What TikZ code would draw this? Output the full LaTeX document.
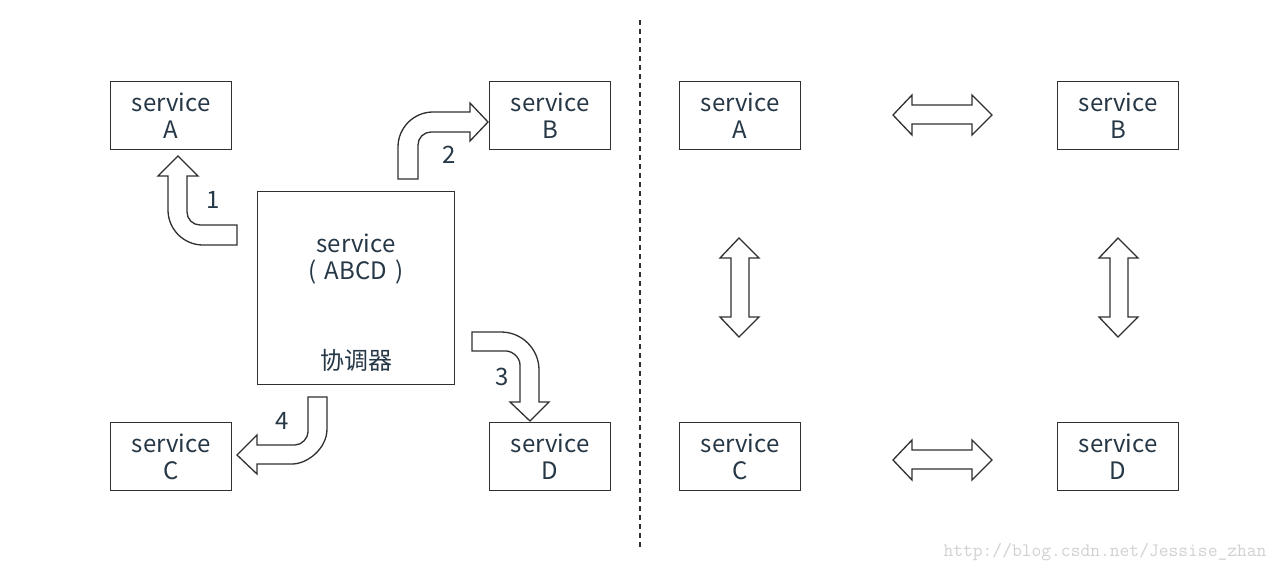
\documentclass[tikz,border=0pt]{standalone}
\usepackage{fontspec}
\setmainfont{Noto Sans CJK SC}
\begin{document}
\begin{tikzpicture}[x=1pt,y=-1pt,
  txt/.style={text=textc,font=\fontsize{24}{27}\selectfont},
  svc/.style={draw=linec,line width=1.3pt,fill=white,minimum width=121pt,minimum height=68pt,inner sep=0pt,align=center,txt,anchor=north west},
  blk/.style={draw=linec,line width=1.3pt,fill=white,line join=miter},
  num/.style={txt}]
\definecolor{textc}{HTML}{263746}
\definecolor{linec}{HTML}{303030}
\useasboundingbox[fill=white] (0,0) rectangle (1280,573);
% left boxes
\node[svc] (A) at (110,81) {service\\A};
\node[svc] (B) at (489,81) {service\\B};
\node[svc] (C) at (110,422) {service\\C};
\node[svc] (D) at (489,422) {service\\D};
\node[draw=linec,line width=1.3pt,minimum width=197pt,minimum height=193pt,anchor=north west] (M) at (257,191) {};
\node[txt,align=center] (Mt) at (356,259) {service\\(\hspace{3pt} ABCD\hspace{3pt} )};
\node[txt] (Mc) at (356,360) {协调器};
% right boxes
\node[svc] (RA) at (679,81) {service\\A};
\node[svc] (RB) at (1057,81) {service\\B};
\node[svc] (RC) at (679,422) {service\\C};
\node[svc] (RD) at (1057,422) {service\\D};
% divider
\coordinate (d1) at (640,20);
\coordinate (d2) at (640,550);
\draw[linec,line width=1.2pt,dash pattern=on 5pt off 4pt] (d1) -- (d2);
% bent arrow 1
\draw[blk] (237,225) -- (200,225) .. controls (192.8,225) and (187,219.2) .. (187,212)
  -- (187,176) -- (198,176) -- (178,156) -- (158,176) -- (168,176)
  -- (168,210) .. controls (168,229.3) and (183.7,245) .. (203,245) -- (237,245) -- cycle;
% bent arrow 2
\draw[blk] (398,179) -- (398,147) .. controls (398,127.7) and (413.7,112) .. (433,112)
  -- (470,112) -- (470,103) -- (488,122) -- (470,141) -- (470,132)
  -- (431,132) .. controls (423.8,132) and (418,137.8) .. (418,145) -- (418,179) -- cycle;
% bent arrow 3
\draw[blk] (472,332) -- (501,332) .. controls (522,332) and (539,349) .. (539,370)
  -- (539,402) -- (549,402) -- (530,421) -- (510,402) -- (520,402)
  -- (520,365) .. controls (520,357.3) and (512.3,351) .. (506,351) -- (472,351) -- cycle;
% bent arrow 4
\draw[blk] (327,397) -- (327,429) .. controls (327,448.3) and (307.7,464) .. (292,464)
  -- (257,464) -- (257,474) -- (237,455) -- (257,435) -- (257,445)
  -- (295,445) .. controls (302.2,445) and (308,437.8) .. (308,432) -- (308,397) -- cycle;
% numbers
\node[num] (n1) at (213,200) {1};
\node[num] (n2) at (449,155) {2};
\node[num] (n3) at (502,377) {3};
\node[num] (n4) at (282,421) {4};
% double arrows
\foreach \dy in {0,345}{
  \draw[blk,yshift=-\dy pt] (893,115) -- (912,95) -- (912,105) -- (972,105) -- (972,95) -- (992,115)
    -- (972,135) -- (972,124) -- (912,124) -- (912,135) -- cycle;
}
\foreach \dx in {0,379}{
  \draw[blk,xshift=\dx pt] (739,238) -- (759,258) -- (749,258) -- (749,317) -- (759,317) -- (739,337)
    -- (720,317) -- (731,317) -- (731,258) -- (720,258) -- cycle;
}
% watermark
\node[text=black!18,font=\ttfamily\fontsize{19}{21}\selectfont,anchor=east] (wm) at (1270,552) {http://blog.csdn.net/Jessise\_zhan};
\end{tikzpicture}
\end{document}
